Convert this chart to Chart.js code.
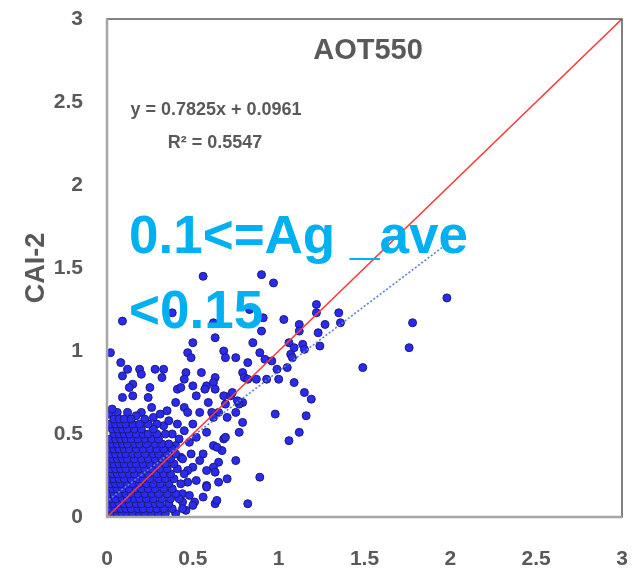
<!DOCTYPE html>
<html lang="en">
<head>
<meta charset="UTF-8">
<title>AOT550 scatter</title>
<script src="https://cdn.jsdelivr.net/npm/chart.js"></script>
<style>
  body { margin: 0; background: #fff; }
  #wrap { width: 637px; height: 582px; }
</style>
</head>
<body>
<div id="wrap"><canvas id="chart_aot"></canvas></div>
<script>
// scattered points above / right of the main cluster  [AOT550, CAI-2]
var outlierPts = [
  [0.02,0.99],[0.09,1.18],[0.56,1.45],[0.38,1.23],[0.90,1.46],[0.97,1.41],[0.83,1.25],[0.91,1.20],
  [1.03,1.19],[0.62,1.17],[0.63,1.08],[0.90,1.12],[1.12,1.16],[1.12,1.12],[1.22,1.28],[1.22,1.23],
  [1.23,1.11],[1.27,1.16],[1.35,1.23],[1.36,1.17],[0.85,1.05],[1.06,1.05],[1.09,1.02],[1.14,1.04],
  [1.15,1.01],[1.24,1.03],[1.98,1.32],[1.78,1.17],[1.76,1.02],[1.49,0.90],[0.50,1.05],[0.47,0.99],
  [0.49,0.96],[0.08,0.93],[0.12,0.89],[0.09,0.85],[0.19,0.89],[0.20,0.86],[0.28,0.89],[0.33,0.89],
  [0.32,0.84],[0.15,0.80],[0.25,0.78],[0.46,0.87],[0.45,0.83],[0.55,0.87],[0.63,0.84],[0.50,0.79],
  [0.58,0.79],[0.68,1.00],[0.69,0.96],[0.75,0.96],[0.89,0.99],[0.92,0.95],[0.96,0.94],[1.07,0.98],
  [1.08,0.96],[0.82,0.93],[0.99,0.89],[0.79,0.87],[0.80,0.84],[0.82,0.83],[0.87,0.83],[0.93,0.83],
  [1.00,0.83],[1.09,0.81],[0.62,0.81],[1.05,0.90],[1.15,0.75],[1.19,0.71],[0.63,0.77],[0.68,0.73],
  [0.72,0.73],[0.69,0.68],[0.79,0.69],[0.77,0.68],[0.75,0.63],[0.65,0.63],[0.61,0.63],[0.70,0.60],
  [0.79,0.57],[0.77,0.51],[0.98,0.62],[1.16,0.61],[1.12,0.51],[1.06,0.46],[0.68,0.47],[0.62,0.43],
  [0.67,0.40],[0.65,0.33],[0.75,0.34],[0.62,0.30],[0.63,0.27],[0.65,0.21],[0.70,0.23],[0.89,0.24],
  [0.63,0.08],[0.82,0.08],[0.51,0.09],[0.50,0.07],[0.41,0.77],[0.57,0.77],[0.73,0.75],[0.09,0.72],
  [0.24,0.72],[0.40,0.69],[0.45,0.66],[0.59,0.69],[0.76,0.70],[0.56,0.38],[0.58,0.19],[0.69,0.48],
  [0.13,0.78],[0.43,0.78],[0.15,0.73],[0.06,0.63],[0.20,0.63],[0.27,0.60],[0.47,0.63],[0.52,0.73],
  [0.54,0.63],[0.62,0.60],[0.58,0.51],[0.64,0.42],[0.54,0.34],[0.58,0.28],[0.52,0.22],[0.58,0.18],
  [0.56,0.12],[0.44,0.14],[0.64,0.10],[0.48,0.45],[0.50,0.30],[0.47,0.21],[0.49,0.38],[0.46,0.04],
  [0.33,0.55],[0.38,0.50],[0.42,0.47],[0.36,0.58],[0.29,0.56],[0.31,0.62],[0.41,0.56],[0.45,0.52],
  [0.40,0.43],[0.43,0.36],[0.47,0.28],[0.44,0.09],[0.48,0.13],[0.01,0.62],[0.03,0.65],[0.12,0.63],
  [0.17,0.61],[0.26,0.66],[0.35,0.64],[0.50,0.56],[0.52,0.48]
];

// dense cluster near the origin, one row per CAI-2 level
var clusterRows = [
  [0.02, [0.01,0.03,0.06,0.09,0.12,0.15,0.19,0.22,0.26,0.30,0.34,0.40]],
  [0.05, [0.02,0.05,0.08,0.11,0.14,0.18,0.21,0.25,0.29,0.33,0.38,0.44]],
  [0.08, [0.01,0.04,0.07,0.10,0.13,0.17,0.20,0.24,0.28,0.31,0.36]],
  [0.11, [0.02,0.05,0.09,0.12,0.16,0.19,0.23,0.27,0.32,0.37,0.42]],
  [0.14, [0.01,0.04,0.07,0.11,0.14,0.18,0.22,0.26,0.30,0.35,0.40]],
  [0.17, [0.03,0.06,0.09,0.13,0.17,0.20,0.24,0.28,0.33,0.38]],
  [0.20, [0.02,0.05,0.08,0.12,0.15,0.19,0.23,0.27,0.31,0.36,0.43]],
  [0.23, [0.01,0.04,0.07,0.10,0.14,0.18,0.21,0.25,0.30,0.34,0.39]],
  [0.26, [0.03,0.06,0.09,0.13,0.16,0.20,0.24,0.29,0.33,0.37,0.45]],
  [0.29, [0.02,0.05,0.08,0.11,0.15,0.19,0.22,0.26,0.31,0.35,0.41]],
  [0.32, [0.01,0.04,0.07,0.10,0.14,0.17,0.21,0.25,0.29,0.34,0.39]],
  [0.35, [0.03,0.06,0.09,0.12,0.16,0.20,0.24,0.28,0.32,0.37,0.44]],
  [0.38, [0.02,0.05,0.08,0.11,0.15,0.18,0.22,0.27,0.30,0.35,0.40]],
  [0.41, [0.01,0.04,0.07,0.10,0.13,0.17,0.21,0.25,0.29,0.33,0.38]],
  [0.44, [0.03,0.06,0.09,0.12,0.16,0.19,0.23,0.28,0.32,0.36]],
  [0.47, [0.02,0.05,0.08,0.11,0.14,0.18,0.22,0.26,0.30]],
  [0.50, [0.04,0.07,0.10,0.13,0.17,0.21,0.24,0.29,0.34]],
  [0.53, [0.03,0.06,0.09,0.12,0.16,0.20,0.27]],
  [0.56, [0.02,0.05,0.08,0.11,0.15,0.19,0.24]],
  [0.59, [0.04,0.07,0.10,0.14,0.22]]
];

var axisTicks = [0, 0.5, 1, 1.5, 2, 2.5, 3];
var oneToOne = [0, 3];          // x range of the 1:1 line
var trendRange = [0.01, 1.98];  // x range of the fitted line
var trendSlope = 0.7825;
var trendIntercept = 0.0961;
var rSquared = 0.5547;

var scatterData = outlierPts.map(p => ({ x: p[0], y: p[1] }));
clusterRows.forEach(r => r[1].forEach(x => scatterData.push({ x: x, y: r[0] })));

var fam = "'Liberation Sans', Arial, sans-serif";
var tickFont = { family: fam, weight: 'bold', size: 21 };

var textLayer = {
    id: 'textLayer',
    afterDatasetsDraw(chart) {
        var ctx = chart.ctx, a = chart.chartArea;
        ctx.save();
        // plot frame
        ctx.strokeStyle = '#595959';
        ctx.lineWidth = 1.5;
        ctx.strokeRect(a.left, a.top, a.right - a.left, a.bottom - a.top);
        ctx.strokeStyle = '#a6a6a6';
        ctx.lineWidth = 2.5;
        ctx.beginPath();
        ctx.moveTo(a.left, a.top);
        ctx.lineTo(a.left, a.bottom);
        ctx.lineTo(a.right, a.bottom);
        ctx.stroke();

        ctx.fillStyle = '#595959';
        ctx.textAlign = 'center';
        ctx.textBaseline = 'alphabetic';
        ctx.font = 'bold 29px ' + fam;
        ctx.fillText('AOT550', a.left + 261, a.top + 40);

        ctx.textBaseline = 'middle';
        ctx.font = 'bold 18px ' + fam;
        ctx.fillText('y = ' + trendSlope + 'x + ' + trendIntercept, a.left + 109, a.top + 91);
        ctx.fillText('R\u00B2 = ' + rSquared, a.left + 108, a.top + 124);

        ctx.fillStyle = '#00b0f0';
        ctx.textAlign = 'left';
        ctx.textBaseline = 'alphabetic';
        ctx.font = 'bold 53px ' + fam;
        ctx.fillText('0.1<=Ag _ave', a.left + 22, a.top + 234);
        ctx.fillText('<0.15', a.left + 22, a.top + 309);
        ctx.restore();
    }
};

new Chart(document.getElementById('chart_aot'), {
    type: 'scatter',
    data: {
        datasets: [
            {
                label: '1:1',
                type: 'line',
                data: oneToOne.map(v => ({ x: v, y: v })),
                borderColor: '#ff3b3b',
                borderWidth: 1.6,
                pointRadius: 0,
                order: 0
            },
            {
                label: 'fit',
                type: 'line',
                data: trendRange.map(v => ({ x: v, y: trendSlope * v + trendIntercept })),
                borderColor: '#5b7fd6',
                borderWidth: 1.6,
                borderDash: [2, 2],
                pointRadius: 0,
                order: 0
            },
            {
                label: 'CAI-2',
                data: scatterData,
                backgroundColor: '#2b2bf0',
                borderColor: '#1a1a7a',
                borderWidth: 1,
                pointRadius: 4,
                order: 1
            }
        ]
    },
    options: {
        responsive: true,
        maintainAspectRatio: false,
        animation: false,
        layout: { padding: { top: 19, right: 15, left: 0, bottom: 0 } },
        plugins: {
            legend: { display: false },
            tooltip: { enabled: false }
        },
        scales: {
            x: {
                type: 'linear',
                min: axisTicks[0],
                max: axisTicks[axisTicks.length - 1],
                grid: { display: false, drawTicks: false },
                border: { display: false },
                afterFit: s => { s.height = 65; s.paddingLeft = 0; s.paddingRight = 0; },
                afterBuildTicks: s => { s.ticks = axisTicks.map(v => ({ value: v })); },
                ticks: {
                    color: '#595959',
                    font: tickFont,
                    padding: 30,
                    maxRotation: 0,
                    callback: v => String(Math.round(v * 10) / 10)
                }
            },
            y: {
                type: 'linear',
                min: axisTicks[0],
                max: axisTicks[axisTicks.length - 1],
                grid: { display: false, drawTicks: false },
                border: { display: false },
                afterFit: s => { s.width = 107; s.paddingTop = 0; s.paddingBottom = 0; },
                afterBuildTicks: s => { s.ticks = axisTicks.map(v => ({ value: v })); },
                title: {
                    display: true,
                    text: 'CAI-2',
                    color: '#595959',
                    font: { family: fam, weight: 'bold', size: 27 },
                    padding: { top: 20, bottom: 0 }
                },
                ticks: {
                    color: '#595959',
                    font: tickFont,
                    padding: 24,
                    callback: v => String(Math.round(v * 10) / 10)
                }
            }
        }
    },
    plugins: [textLayer]
});
</script>
</body>
</html>
